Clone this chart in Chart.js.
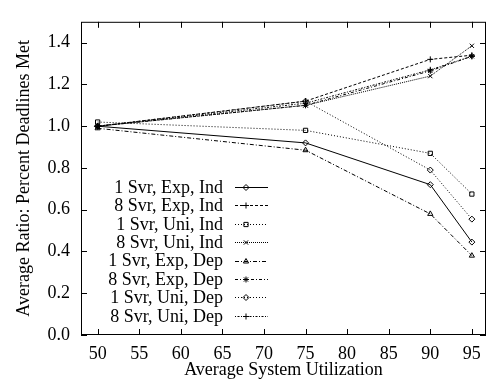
<!DOCTYPE html>
<html>
<head>
<meta charset="utf-8">
<script src="https://cdn.jsdelivr.net/npm/chart.js@4/dist/chart.umd.min.js"></script>
<style>
  html, body { margin: 0; padding: 0; background: #fff; }
  #wrap { width: 491px; height: 386px; position: relative; }
</style>
</head>
<body>
<div id="wrap"><canvas id="chart"></canvas></div>
<script>
// average system utilization (x)
const utilization = [50, 75, 90, 95];
const xTicks = [50, 55, 60, 65, 70, 75, 80, 85, 90, 95];
const yTicks = [0.0, 0.2, 0.4, 0.6, 0.8, 1.0, 1.2, 1.4];

// average ratio of percent deadlines met
const oneExpInd = [1.00, 0.92, 0.72, 0.445];
const eightExpInd = [1.00, 1.12, 1.32, 1.34];
const oneUniInd = [1.02, 0.98, 0.87, 0.675];
const eightUniInd = [1.00, 1.10, 1.24, 1.385];
const oneExpDep = [0.99, 0.885, 0.58, 0.38];
const eightExpDep = [1.00, 1.10, 1.265, 1.335];
const oneUniDep = [1.00, 1.12, 0.79, 0.555];
const eightUniDep = [1.00, 1.11, 1.27, 1.335];

const FONT = '"Liberation Serif", "Times New Roman", serif';

function series(label, values, dash, point) {
  return {
    label: label,
    data: values.map((v, i) => ({ x: utilization[i], y: v })),
    borderColor: '#000',
    borderWidth: 1,
    borderDash: dash,
    pointStyle: point,
    pointRadius: 3,
    pointBorderWidth: 1,
    pointBorderColor: '#000',
    pointBackgroundColor: 'rgba(0,0,0,0)',
    tension: 0,
    fill: false
  };
}

const datasets = [
  series('1 Svr, Exp, Ind', oneExpInd, [], 'rectRot'),
  series('8 Svr, Exp, Ind', eightExpInd, [3, 2], 'cross'),
  series('1 Svr, Uni, Ind', oneUniInd, [1, 2], 'rect'),
  series('8 Svr, Uni, Ind', eightUniInd, [1, 1], 'crossRot'),
  series('1 Svr, Exp, Dep', oneExpDep, [4, 2, 1, 2], 'triangle'),
  series('8 Svr, Exp, Dep', eightExpDep, [3, 2, 1, 2], 'star'),
  series('1 Svr, Uni, Dep', oneUniDep, [1, 2], 'rectRot'),
  series('8 Svr, Uni, Dep', eightUniDep, [1, 1.5, 2, 1.5], 'cross')
];

// box, inward ticks, axis titles and the key
const frame = {
  id: 'frame',
  afterDraw(chart) {
    const ctx = chart.ctx;
    const a = chart.chartArea;
    const xs = chart.scales.x, ys = chart.scales.y;
    ctx.save();
    ctx.strokeStyle = '#000';
    ctx.lineWidth = 1;
    ctx.setLineDash([]);
    ctx.strokeRect(a.left + 0.5, a.top + 0.5, a.right - a.left - 1, a.bottom - a.top - 1);
    ctx.beginPath();
    xTicks.forEach(v => {
      const px = Math.round(xs.getPixelForValue(v)) + 0.5;
      ctx.moveTo(px, a.bottom); ctx.lineTo(px, a.bottom - 6);
      ctx.moveTo(px, a.top); ctx.lineTo(px, a.top + 6);
    });
    yTicks.forEach(v => {
      const py = Math.round(ys.getPixelForValue(v)) + 0.5;
      ctx.moveTo(a.left, py); ctx.lineTo(a.left + 6, py);
      ctx.moveTo(a.right, py); ctx.lineTo(a.right - 6, py);
    });
    ctx.stroke();

    ctx.fillStyle = '#000';
    ctx.font = '18px ' + FONT;
    ctx.textAlign = 'center';
    ctx.textBaseline = 'alphabetic';
    ctx.fillText('Average System Utilization', (a.left + a.right) / 2, 375);
    ctx.save();
    ctx.translate(29, (a.top + a.bottom) / 2);
    ctx.rotate(-Math.PI / 2);
    ctx.fillText('Average Ratio: Percent Deadlines Met', 0, 0);
    ctx.restore();

    // key
    ctx.textAlign = 'right';
    ctx.textBaseline = 'middle';
    chart.data.datasets.forEach((ds, i) => {
      const y = 187 + i * 18.4;
      ctx.fillText(ds.label, 223, y + 1);
      ctx.beginPath();
      ctx.setLineDash(ds.borderDash);
      ctx.moveTo(235, Math.round(y) + 0.5);
      ctx.lineTo(268, Math.round(y) + 0.5);
      ctx.stroke();
      ctx.setLineDash([]);
      ctx.fillStyle = 'rgba(0,0,0,0)';
      Chart.helpers.drawPoint(ctx, {
        pointStyle: ds.pointStyle, radius: 3, rotation: 0, borderWidth: 1
      }, 246, Math.round(y) + 0.5);
      ctx.fillStyle = '#000';
    });
    ctx.restore();
  }
};

new Chart(document.getElementById('chart'), {
  type: 'line',
  data: { datasets: datasets },
  options: {
    responsive: true,
    maintainAspectRatio: false,
    animation: false,
    layout: { padding: { top: 7, right: 1, left: 0, bottom: 0 } },
    plugins: { legend: { display: false }, tooltip: { enabled: false } },
    scales: {
      x: {
        type: 'linear',
        min: 48,
        max: 96.7,
        afterBuildTicks: s => { s.ticks = xTicks.map(v => ({ value: v })); },
        afterFit: s => { s.height = 51; },
        grid: { display: false, drawTicks: false },
        border: { display: false },
        ticks: { color: '#000', padding: 8, maxRotation: 0, autoSkip: false,
                 font: { family: FONT, size: 18 } }
      },
      y: {
        min: 0,
        max: 1.5,
        afterBuildTicks: s => { s.ticks = yTicks.map(v => ({ value: v })); },
        afterFit: s => { s.width = 81; },
        grid: { display: false, drawTicks: false },
        border: { display: false },
        ticks: { color: '#000', padding: 11, autoSkip: false,
                 callback: v => v.toFixed(1),
                 font: { family: FONT, size: 18 } }
      }
    }
  },
  plugins: [frame]
});
</script>
</body>
</html>
